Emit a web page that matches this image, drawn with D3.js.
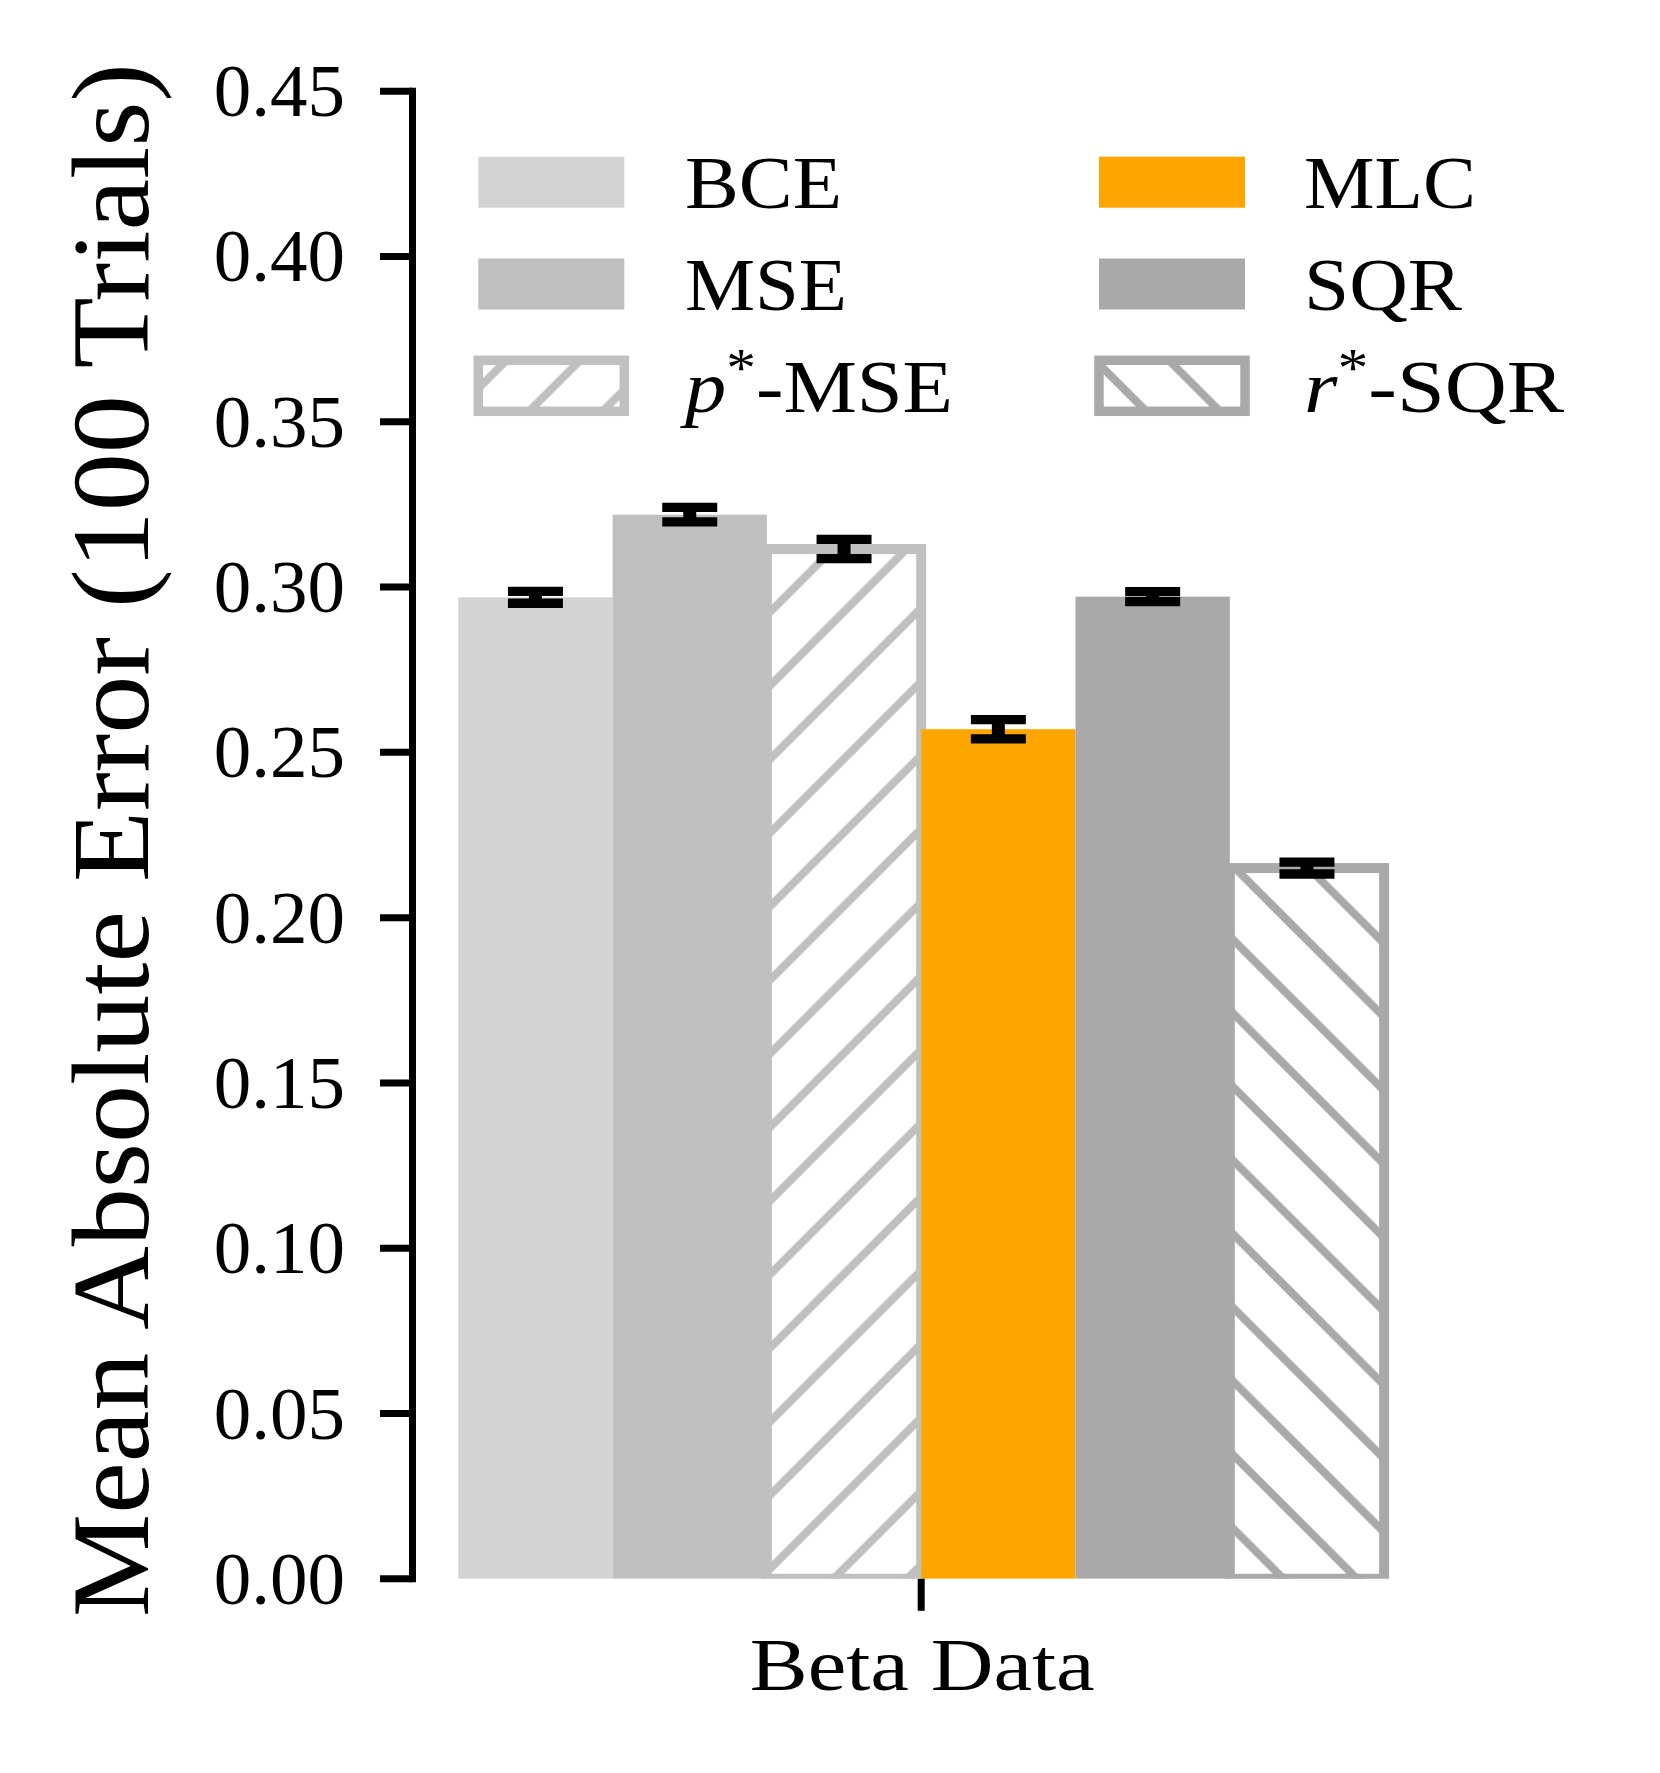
<!DOCTYPE html>
<html><head><meta charset="utf-8">
<script src="https://cdn.jsdelivr.net/npm/d3@7"></script>
<style>
body{margin:0;background:#fff}
svg{display:block}
text{font-family:"Liberation Serif","Times New Roman",serif;fill:#000}
</style>
</head><body>
<svg id="chart" width="1660" height="1773"></svg>
<script>
// ---------- data ----------
const categories = ["Beta Data"];
const methods = ["BCE", "MSE", "p*-MSE", "MLC", "SQR", "r*-SQR"];
const values = [0.2969, 0.3219, 0.3115, 0.2570, 0.2971, 0.2150];
const errors = [0.0018, 0.0022, 0.0029, 0.0029, 0.0015, 0.0018];
const yTickValues = [0.00, 0.05, 0.10, 0.15, 0.20, 0.25, 0.30, 0.35, 0.40, 0.45];
const yLabel = "Mean Absolute Error (100 Trials)";

// ---------- styles ----------
const colors = ["#d3d3d3", "#c0c0c0", "#c0c0c0", "#ffa500", "#a9a9a9", "#a9a9a9"];
const hatches = [null, null, "/", null, null, "\\"];
const legendTextWidth = {"BCE":157, "MSE":162, "p*-MSE":268, "MLC":172, "SQR":158, "r*-SQR":260};

const svg = d3.select("#chart");
const plot = {left: 412, right: 1430.4, top: 91.2, bottom: 1578.8};
const barWidth = 0.15;

const x = d3.scaleLinear().domain([-0.495, 0.495]).range([plot.left, plot.right]);
const y = d3.scaleLinear().domain([0, 0.45]).range([plot.bottom, plot.top]);

// ---------- hatch patterns ----------
const T = 73.6;
const defs = svg.append("defs");
function mod(a, m){ return ((a % m) + m) % m; }
function makePattern(id, kind, color){
  const p = defs.append("pattern").attr("id", id)
    .attr("patternUnits", "userSpaceOnUse")
    .attr("width", T).attr("height", T);
  let d;
  if (kind === "/") {
    p.attr("x", 0).attr("y", mod(1750, T));
    d = `M0,${T} L${T},0 M${-T/2},${T/2} L${T/2},${-T/2} M${T/2},${1.5*T} L${1.5*T},${T/2}`;
  } else {
    p.attr("x", 0).attr("y", mod(-367, T));
    d = `M0,0 L${T},${T} M${-T/2},${T/2} L${T/2},${1.5*T} M${T/2},${-T/2} L${1.5*T},${T/2}`;
  }
  p.append("path").attr("d", d).attr("stroke", color).attr("stroke-width", 8).attr("fill", "none");
}
methods.forEach((m, i) => { if (hatches[i]) makePattern("hatch" + i, hatches[i], colors[i]); });

defs.append("clipPath").attr("id", "plotclip").append("rect")
  .attr("x", plot.left).attr("y", plot.top)
  .attr("width", plot.right - plot.left).attr("height", plot.bottom - plot.top);

// ---------- bars ----------
const bars = methods.map((m, i) => ({m, i, v: values[i], e: errors[i], c: (i - 2.5) * barWidth}));
const barG = svg.append("g").attr("clip-path", "url(#plotclip)");
const order = bars.filter(b => hatches[b.i]).concat(bars.filter(b => !hatches[b.i]));
barG.selectAll("rect.bar").data(order).join("rect")
  .attr("class", "bar")
  .attr("x", d => x(d.c - barWidth/2))
  .attr("width", d => x(d.c + barWidth/2) - x(d.c - barWidth/2))
  .attr("y", d => y(d.v))
  .attr("height", d => y(0) - y(d.v))
  .attr("fill", d => hatches[d.i] ? `url(#hatch${d.i})` : colors[d.i])
  .attr("stroke", d => hatches[d.i] ? colors[d.i] : "none")
  .attr("stroke-width", d => hatches[d.i] ? 10 : 0);

// ---------- error bars ----------
const errG = svg.append("g");
const capHalf = 27.5;
bars.forEach(b => {
  const cx = x(b.c);
  errG.append("line").attr("x1", cx).attr("x2", cx)
    .attr("y1", y(b.v - b.e)).attr("y2", y(b.v + b.e))
    .attr("stroke", "#000").attr("stroke-width", 13);
  [b.v - b.e, b.v + b.e].forEach(v => {
    errG.append("line").attr("x1", cx - capHalf).attr("x2", cx + capHalf)
      .attr("y1", y(v)).attr("y2", y(v))
      .attr("stroke", "#000").attr("stroke-width", 9.3);
  });
});

// ---------- axes ----------
const axG = svg.append("g");
axG.append("line").attr("x1", plot.left + 0.5).attr("x2", plot.left + 0.5)
  .attr("y1", y(0.45) - 3.5).attr("y2", y(0) + 3.5)
  .attr("stroke", "#000").attr("stroke-width", 7);
yTickValues.forEach(t => {
  axG.append("line").attr("x1", 380).attr("x2", plot.left + 0.5)
    .attr("y1", y(t)).attr("y2", y(t))
    .attr("stroke", "#000").attr("stroke-width", 7);
  axG.append("text").attr("x", 345).attr("y", y(t) + 25)
    .attr("text-anchor", "end").attr("font-size", 75)
    .text(d3.format(".2f")(t));
});
categories.forEach(cat => {
  const cx = x(0);
  axG.append("line").attr("x1", cx).attr("x2", cx)
    .attr("y1", plot.bottom).attr("y2", plot.bottom + 32)
    .attr("stroke", "#000").attr("stroke-width", 7);
  axG.append("text").attr("x", cx + 1).attr("y", 1690)
    .attr("text-anchor", "middle").attr("font-size", 74)
    .attr("textLength", 345).attr("lengthAdjust", "spacingAndGlyphs")
    .text(cat);
});
svg.append("text")
  .attr("transform", "translate(148,840) rotate(-90)")
  .attr("text-anchor", "middle").attr("font-size", 110)
  .attr("textLength", 1554).attr("lengthAdjust", "spacingAndGlyphs")
  .text(yLabel);

// ---------- legend ----------
const legG = svg.append("g");
const patchW = 146, patchH = 51;
methods.forEach((m, i) => {
  const col = Math.floor(i / 3), row = i % 3;
  const px = 478.3 + col * 620.7, py = 156.7 + row * 101.8;
  legG.append("rect").attr("x", px).attr("y", py).attr("width", patchW).attr("height", patchH)
    .attr("fill", hatches[i] ? `url(#hatch${i})` : colors[i])
    .attr("stroke", hatches[i] ? colors[i] : "none")
    .attr("stroke-width", hatches[i] ? 9.5 : 0);
  const tx = 685 + col * 619, ty = 208.3 + row * 101.8;
  const t = legG.append("text").attr("x", tx).attr("y", ty).attr("font-size", 75)
    .attr("textLength", legendTextWidth[m]).attr("lengthAdjust", "spacingAndGlyphs");
  if (m.includes("*")) {
    const [pre, post] = m.split("*");
    t.append("tspan").attr("font-style", "italic").text(pre);
    t.append("tspan").attr("font-size", 54).attr("dy", -26).text("*");
    t.append("tspan").attr("dy", 26).text(post);
  } else {
    t.text(m);
  }
});
</script>
</body></html>
